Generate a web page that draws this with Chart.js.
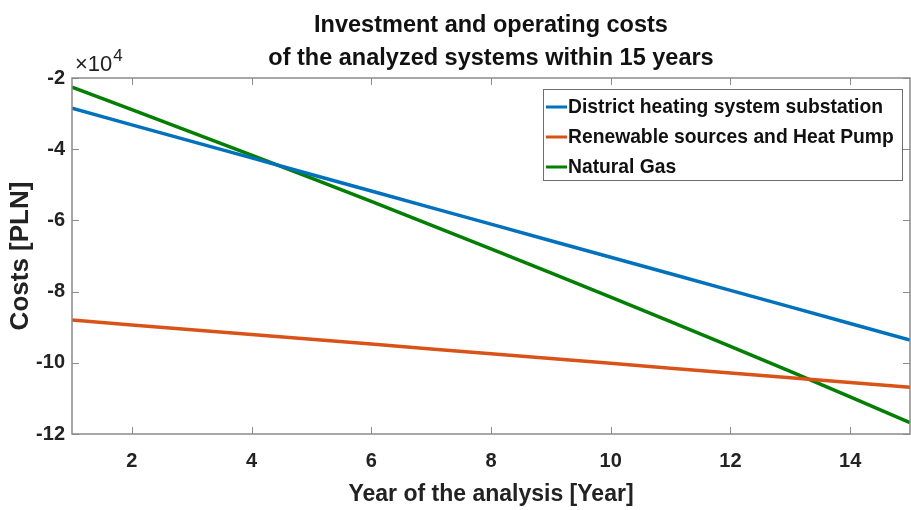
<!DOCTYPE html>
<html><head><meta charset="utf-8">
<script src="https://cdn.jsdelivr.net/npm/chart.js@4/dist/chart.umd.min.js"></script>
<style>html,body{margin:0;padding:0;background:#fff;}canvas{display:block;}</style>
</head><body>
<canvas id="c" width="911" height="510"></canvas>
<script>
const years = [1,2,3,4,5,6,7,8,9,10,11,12,13,14,15];
const xTicks = [2,4,6,8,10,12,14];
const yTicks = [-120000,-100000,-80000,-60000,-40000,-20000];
const districtHeating = [-28500,-33150,-37800,-42450,-47100,-51750,-56400,-61050,-65700,-70350,-75000,-79650,-84300,-88950,-93600];
const renewablesHeatPump = [-88000,-89350,-90700,-92050,-93400,-94750,-96100,-97450,-98800,-100150,-101500,-102850,-104200,-105550,-106900];
const naturalGas = [-22600,-28900,-35250,-41650,-48100,-54650,-61300,-68000,-74750,-81550,-88450,-95400,-102400,-109550,-116800];
const seriesNames = ['District heating system substation','Renewable sources and Heat Pump','Natural Gas'];
const seriesColors = ['#0072BD','#D95319','#007F00'];
const titleLines = ['Investment and operating costs','of the analyzed systems within 15 years'];
const xTitle = 'Year of the analysis [Year]';
const yTitle = 'Costs [PLN]';

const FONT = "'Liberation Sans', Arial, sans-serif";
const AXIS_COLOR = '#8a8a8a';

const framePlugin = {
  id: 'frame',
  afterDraw(chart) {
    const {ctx, chartArea: a, scales: {x, y}} = chart;
    ctx.save();
    // title centred over the plot area
    ctx.fillStyle = '#111';
    ctx.textAlign = 'center';
    ctx.textBaseline = 'alphabetic';
    ctx.font = 'bold 23.5px ' + FONT;
    const cx = (a.left + a.right) / 2;
    titleLines.forEach((t, i) => ctx.fillText(t, cx, 32 + i * 33));
    // frame
    ctx.strokeStyle = AXIS_COLOR;
    ctx.lineWidth = 1.5;
    ctx.strokeRect(a.left, a.top, a.right - a.left, a.bottom - a.top);
    ctx.lineWidth = 1;
    const tl = 7;
    ctx.beginPath();
    xTicks.forEach(v => {
      const px = Math.round(x.getPixelForValue(v)) + 0.5;
      ctx.moveTo(px, a.bottom); ctx.lineTo(px, a.bottom - tl);
      ctx.moveTo(px, a.top); ctx.lineTo(px, a.top + tl);
    });
    yTicks.forEach(v => {
      const py = Math.round(y.getPixelForValue(v)) + 0.5;
      ctx.moveTo(a.left, py); ctx.lineTo(a.left + tl, py);
      ctx.moveTo(a.right, py); ctx.lineTo(a.right - tl, py);
    });
    ctx.stroke();
    // exponent label
    ctx.fillStyle = '#222';
    ctx.textAlign = 'left';
    ctx.font = '22px ' + FONT;
    ctx.fillText('\u00d710', a.left + 3, a.top - 7);
    const w = ctx.measureText('\u00d710').width;
    ctx.font = '17px ' + FONT;
    ctx.fillText('4', a.left + 3 + w + 1, a.top - 17);
    // legend
    const bx = 543, by = 89, bw = 359, bh = 91;
    ctx.fillStyle = '#fff';
    ctx.fillRect(bx, by, bw, bh);
    ctx.strokeStyle = '#6e6e6e';
    ctx.lineWidth = 1;
    ctx.strokeRect(bx + 0.5, by + 0.5, bw, bh);
    ctx.font = 'bold 19.3px ' + FONT;
    ctx.textBaseline = 'middle';
    chart.data.datasets.forEach((ds, i) => {
      const cy = by + 18 + i * 30;
      ctx.strokeStyle = ds.borderColor;
      ctx.lineWidth = 3;
      ctx.beginPath();
      ctx.moveTo(bx + 3, cy); ctx.lineTo(bx + 24, cy);
      ctx.stroke();
      ctx.fillStyle = '#111';
      ctx.fillText(ds.label, bx + 25, cy + 1);
    });
    ctx.restore();
  }
};

const mk = (label, data, color) => ({
  label, data: data.map((v, i) => ({x: years[i], y: v})),
  borderColor: color, backgroundColor: color, borderWidth: 3.5,
  pointRadius: 0, tension: 0, fill: false
});

new Chart(document.getElementById('c'), {
  type: 'line',
  data: {
    datasets: [
      mk(seriesNames[0], districtHeating, seriesColors[0]),
      mk(seriesNames[1], renewablesHeatPump, seriesColors[1]),
      mk(seriesNames[2], naturalGas, seriesColors[2])
    ]
  },
  options: {
    responsive: false,
    animation: false,
    devicePixelRatio: 1,
    layout: {padding: {left: 0, right: 1, top: 78, bottom: 0}},
    plugins: {
      legend: {display: false},
      tooltip: {enabled: false},
      title: {display: false}
    },
    scales: {
      x: {
        type: 'linear', min: 1, max: 15,
        grid: {display: false, drawTicks: false},
        border: {display: false},
        afterBuildTicks: s => { s.ticks = xTicks.map(v => ({value: v})); },
        afterFit: s => { s.height = 76; },
        ticks: {color: '#222', padding: 15, maxRotation: 0,
          font: {family: FONT, size: 20, weight: 'bold'}},
        title: {display: true, text: xTitle, color: '#222',
          font: {family: FONT, size: 23, weight: 'bold', lineHeight: 1.2},
          padding: {top: 0, bottom: 2}}
      },
      y: {
        type: 'linear', min: -120000, max: -20000,
        grid: {display: false, drawTicks: false},
        border: {display: false},
        afterBuildTicks: s => { s.ticks = yTicks.map(v => ({value: v})); },
        afterFit: s => { s.width = 72; },
        ticks: {color: '#222', padding: 7,
          callback: v => String(v / 10000),
          font: {family: FONT, size: 20, weight: 'bold'}},
        title: {display: true, text: yTitle, color: '#222',
          font: {family: FONT, size: 26, weight: 'bold', lineHeight: 1.2},
          padding: {top: 5, bottom: 0}}
      }
    }
  },
  plugins: [framePlugin]
});
</script>
</body></html>
